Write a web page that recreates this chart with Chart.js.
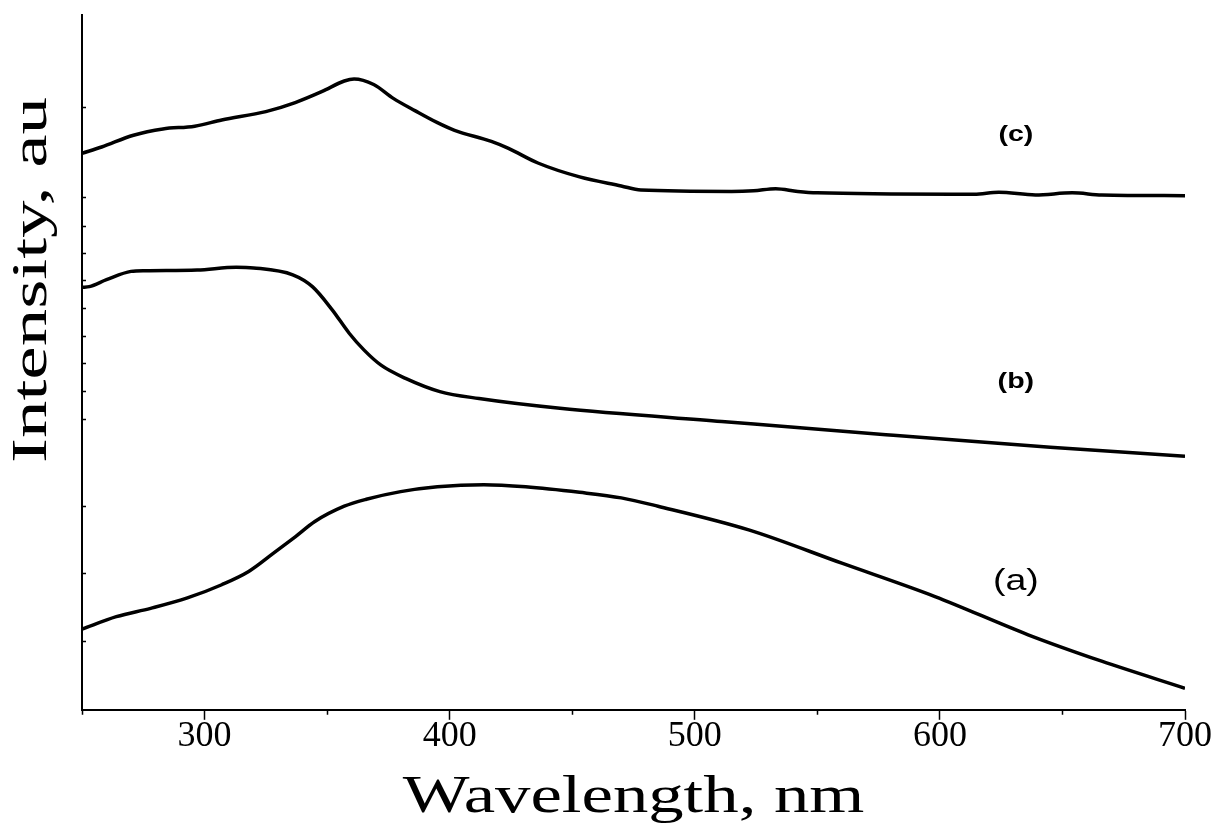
<!DOCTYPE html>
<html>
<head>
<meta charset="utf-8">
<script src="https://cdn.jsdelivr.net/npm/chart.js@4/dist/chart.umd.min.js"></script>
<style>
  html, body { margin: 0; padding: 0; background: #fff; }
  #wrap { width: 1217px; height: 823px; }
</style>
</head>
<body>
<div id="wrap"><canvas id="spectra"></canvas></div>
<script>
// spectra (intensity in arbitrary units, 0-100 full axis)
const wlA = [250, 264, 278, 293, 307, 318, 328, 337, 345, 357, 366, 380, 395, 414, 431, 453, 470, 485, 522, 560, 598, 636, 666, 700];
const intA = [11.6, 13.4, 14.6, 16.1, 18.0, 19.9, 22.5, 24.9, 27.1, 29.3, 30.3, 31.4, 32.1, 32.4, 32.1, 31.3, 30.5, 29.3, 25.9, 21.1, 16.3, 10.8, 7.0, 3.1];

const wlB = [250, 253, 260, 270, 276, 297, 313, 320, 336, 344, 352, 359, 365, 372, 382, 396, 412, 445, 511, 578, 645, 700];
const intB = [60.8, 60.9, 61.9, 63.1, 63.2, 63.3, 63.7, 63.6, 62.6, 60.9, 57.6, 54.2, 51.8, 49.6, 47.7, 45.8, 44.8, 43.4, 41.5, 39.6, 37.8, 36.5];

const wlC = [250, 258, 271, 283, 296, 307, 325, 337, 348, 357, 361, 369, 377, 386, 395, 402, 417, 424, 436, 453, 470, 478, 515, 524, 533, 542, 550, 605, 614, 624, 639, 654, 666, 700];
const intC = [80.1, 81.0, 82.7, 83.6, 84.0, 84.9, 86.1, 87.4, 89.0, 90.5, 90.8, 90.0, 88.0, 86.2, 84.5, 83.4, 81.8, 80.8, 78.7, 76.7, 75.4, 74.8, 74.6, 74.7, 75.0, 74.6, 74.4, 74.2, 74.2, 74.5, 74.1, 74.4, 74.1, 74.0];

const xTicks = [300, 400, 500, 600, 700];
const xMinor = [250, 350, 450, 550, 650];
const yMinor = [86.8, 73.8, 69.6, 65.8, 61.9, 57.8, 53.8, 49.9, 45.9, 41.9, 29.4, 19.7, 9.9];

const curveNames = ['(a)', '(b)', '(c)'];
const nameAt = [[631, 18.4], [631, 47.2], [631, 82.7]];

const xTitle = 'Wavelength, nm';
const yTitle = 'Intensity, au';

function pts(xs, ys) {
  return xs.map((v, i) => ({ x: v, y: ys[i] }));
}

function line(col, data) {
  return {
    data: data,
    borderColor: col,
    borderWidth: 3.5,
    pointRadius: 0,
    tension: 0.4,
    cubicInterpolationMode: 'monotone',
    fill: false
  };
}

// the original lettering is a bit wider than the fonts we have, so stretch it
function wideText(ctx, text, cx, cy, rot, sx) {
  ctx.save();
  ctx.translate(cx, cy);
  ctx.rotate(rot);
  ctx.scale(sx, 1);
  ctx.fillText(text, 0, 0);
  ctx.restore();
}

const serif = '"Liberation Serif", "Times New Roman", serif';

// small tick marks, axis titles and the curve names
const extras = {
  id: 'extras',
  afterDraw(chart) {
    const ctx = chart.ctx;
    const x = chart.scales.x, y = chart.scales.y;
    ctx.save();
    ctx.strokeStyle = '#000';
    ctx.lineWidth = 1.5;
    ctx.beginPath();
    xMinor.forEach(v => {
      const px = Math.round(x.getPixelForValue(v)) + 0.5;
      ctx.moveTo(px, y.bottom);
      ctx.lineTo(px, y.bottom + 5);
    });
    yMinor.forEach(v => {
      const py = Math.round(y.getPixelForValue(v)) + 0.5;
      ctx.moveTo(x.left, py);
      ctx.lineTo(x.left + 4, py);
    });
    ctx.stroke();

    ctx.fillStyle = '#000';
    ctx.textAlign = 'center';
    ctx.textBaseline = 'alphabetic';
    ctx.font = '52px ' + serif;
    wideText(ctx, xTitle, (x.left + x.right) / 2, 812, 0, 1.36);
    ctx.font = '50px ' + serif;
    wideText(ctx, yTitle, 46, 280, -Math.PI / 2, 1.5);

    ctx.textBaseline = 'middle';
    curveNames.forEach((t, i) => {
      ctx.font = i === 0 ? '30px "Liberation Sans", Arial' : 'bold 22px "Liberation Sans", Arial';
      wideText(ctx, t, x.getPixelForValue(nameAt[i][0]), y.getPixelForValue(nameAt[i][1]), 0, i === 0 ? 1.25 : 1.3);
    });
    ctx.restore();
  }
};

const chart = new Chart(document.getElementById('spectra'), {
  type: 'line',
  data: {
    datasets: [
      line('#000', pts(wlA, intA)),
      line('#000', pts(wlB, intB)),
      line('#000', pts(wlC, intC))
    ]
  },
  options: {
    responsive: true,
    maintainAspectRatio: false,
    animation: false,
    layout: { padding: { left: 82, right: 32, top: 15, bottom: 70 } },
    plugins: {
      legend: { display: false },
      tooltip: { enabled: false }
    },
    scales: {
      x: {
        type: 'linear',
        min: 250,
        max: 700,
        afterBuildTicks: s => { s.ticks = xTicks.map(v => ({ value: v })); },
        ticks: {
          color: '#000',
          padding: -5,
          maxRotation: 0,
          font: { family: serif, size: 36 }
        },
        grid: { drawOnChartArea: false, tickLength: 10, tickColor: '#000', tickWidth: 1.5 },
        border: { color: '#000', width: 2 }
      },
      y: {
        min: 0,
        max: 100,
        ticks: { display: false },
        grid: { display: false, drawTicks: false },
        border: { color: '#000', width: 2 }
      }
    }
  },
  plugins: [extras]
});
</script>
</body>
</html>
